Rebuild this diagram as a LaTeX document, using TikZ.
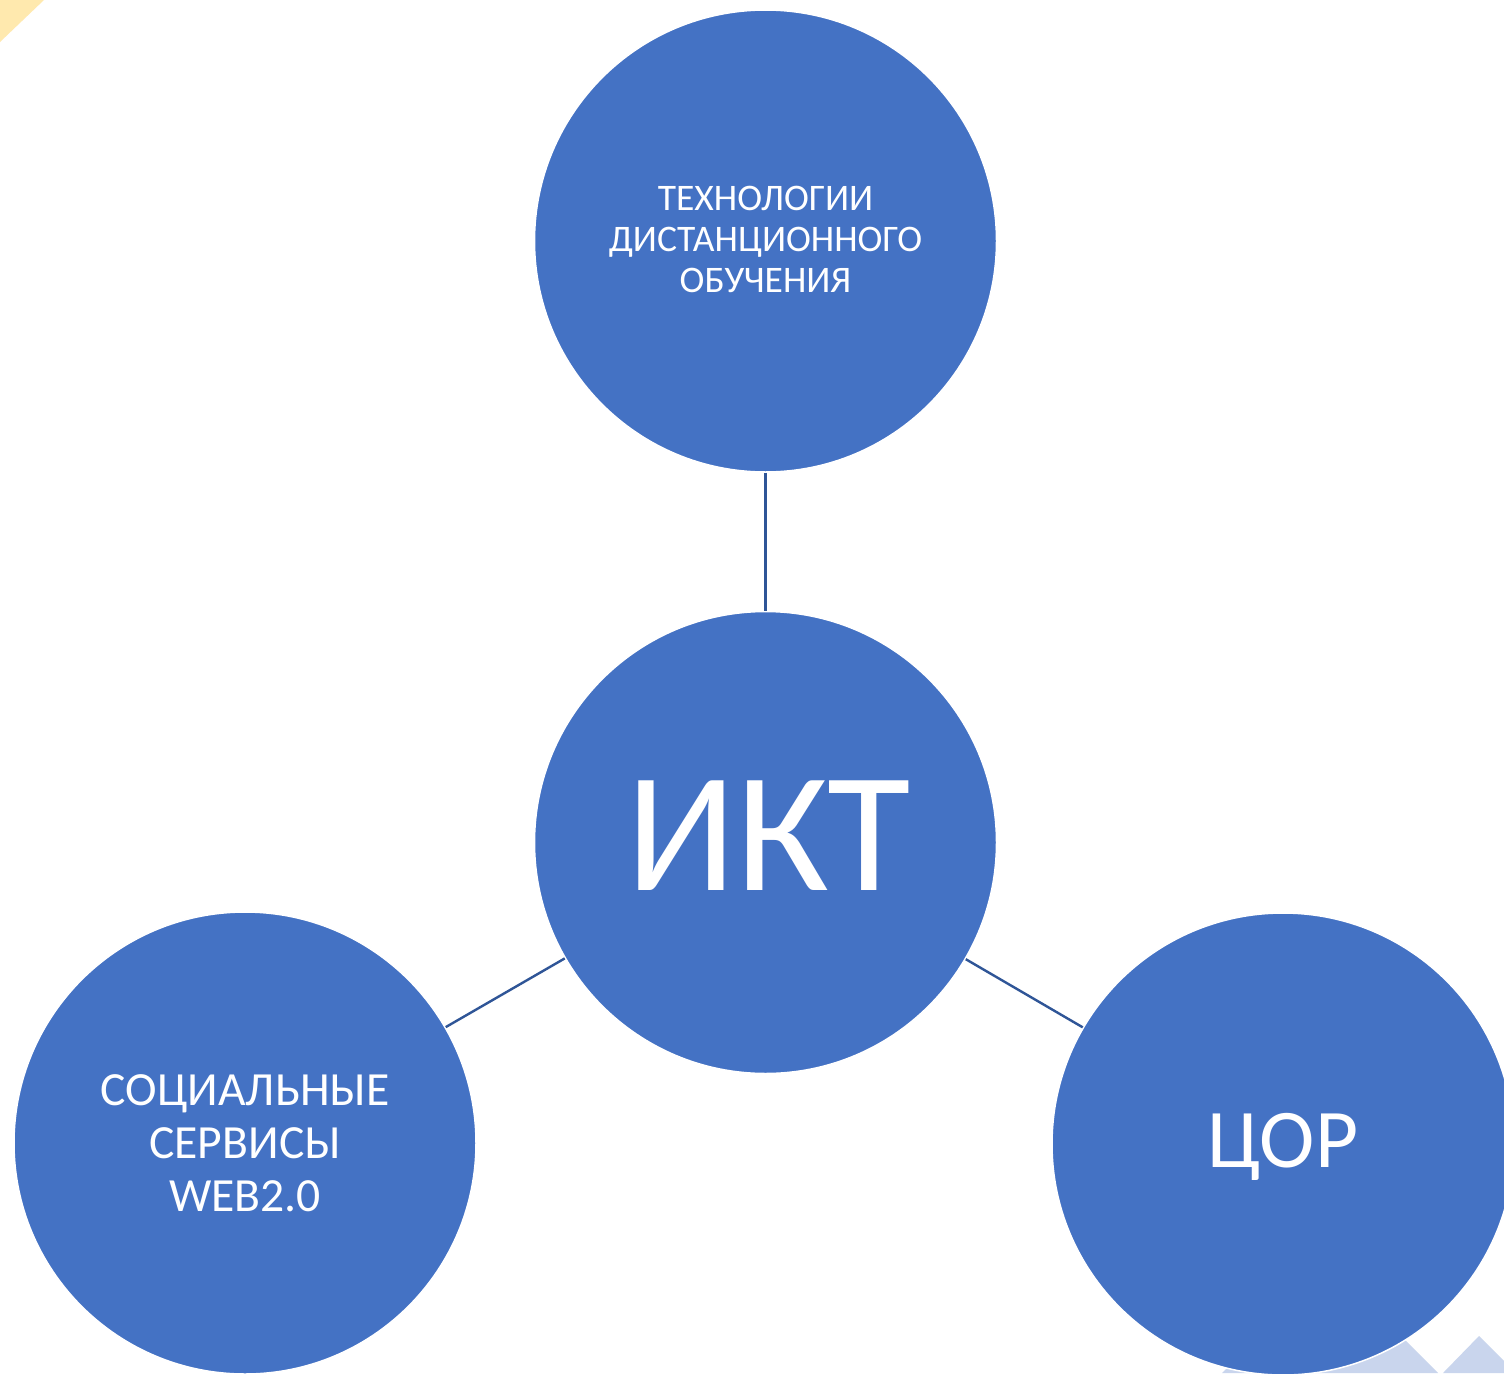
\documentclass[tikz,border=0pt]{standalone}
\usepackage{fontspec}
\setmainfont{Carlito}
\definecolor{discblue}{HTML}{4472C4}
\definecolor{linkblue}{HTML}{2F5597}
\definecolor{paleblue}{HTML}{C9D5ED}
\definecolor{paleyellow}{HTML}{FFE9AE}
\tikzset{
  disc/.style={circle,fill=discblue,draw=white,line width=1.5pt,inner sep=0pt,minimum size=462pt,outer sep=0.8pt,align=center,text=white},
  link/.style={draw=linkblue,line width=2.4pt},
}
\newcommand{\fsz}[2]{\fontsize{#1pt}{#2pt}\selectfont}
\begin{document}
\begin{tikzpicture}[x=1pt,y=-1pt]
\useasboundingbox (0,0) rectangle (1504,1373);
\clip (0,0) rectangle (1504,1373);
\fill[white] (0,0) rectangle (1504,1373);
\fill[paleyellow] (0,42) -- (44,0) -- (0,0) -- cycle;
\fill[paleblue] (1222,1373) -- (1330,1265) -- (1438,1373) -- cycle;
\fill[paleblue] (1443,1373) -- (1479,1336) -- (1516,1373) -- cycle;
\node[disc,font=\fsz{37.5}{41}] (top) at (765.5,241) {ТЕХНОЛОГИИ\\ДИСТАНЦИОННОГО\\ОБУЧЕНИЯ\rule[-4pt]{0pt}{4pt}};
\node[disc,font=\fsz{171}{200}] (mid) at (765.5,842.5) {\hspace{6pt}\raisebox{0pt}[95pt][0pt]{ИКТ}};
\node[disc,font=\fsz{47.6}{53}] (left) at (245,1143) {СОЦИАЛЬНЫЕ\\СЕРВИСЫ\\WEB2.0};
\node[disc,font=\fsz{83.5}{100}] (right) at (1283,1144) {\raisebox{0pt}[46pt][0pt]{ЦОР}};
\draw[link] (top) -- (mid);
\draw[link] (mid) -- (left);
\draw[link] (mid) -- (right);
\end{tikzpicture}
\end{document}
